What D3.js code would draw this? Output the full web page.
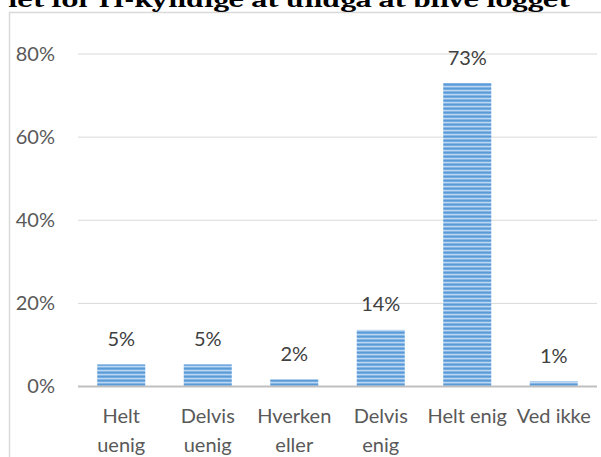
<!DOCTYPE html>
<html><head><meta charset="utf-8">
<script src="https://cdn.jsdelivr.net/npm/d3@7"></script>
<style>body{margin:0;background:#fff;}svg{display:block;}</style>
</head><body>
<svg id="c" width="601" height="457"></svg>
<script>
const titleText = "let for IT-kyndige at undgå at blive logget";
const categories = [["Helt","uenig"],["Delvis","uenig"],["Hverken","eller"],["Delvis","enig"],["Helt enig"],["Ved ikke"]];
const values = [5.2, 5.2, 1.6, 13.5, 72.9, 1.1];
const yTicks = [0, 20, 40, 60, 80];

const svg = d3.select("#c");
const W = 601, H = 457;
const plot = {left: 78, right: 597, top: 53.5, bottom: 386};
const font = "Lato, 'Open Sans', sans-serif";

// pattern
const defs = svg.append("defs");
const pat = defs.append("pattern").attr("id","stripes").attr("patternUnits","userSpaceOnUse")
  .attr("width", 10).attr("height", 4);
const stripeCols = ["#5b9bd5","#74abe0","#bcd7f1","#84b5e4"];
stripeCols.forEach((c,i)=>pat.append("rect").attr("x",0).attr("y",i).attr("width",10).attr("height",1).attr("fill",c));

// frame
svg.append("rect").attr("x",9.5).attr("y",12.5).attr("width",W).attr("height",H)
  .attr("fill","none").attr("stroke","#d9d9d9").attr("stroke-width",1.5);

// title (cut off at top)
svg.append("text").attr("x", 8).attr("y", 6.5)
  .attr("font-family","Cambria, 'Liberation Serif', 'DejaVu Serif', serif")
  .attr("font-weight","bold").attr("font-size",22).attr("fill","#000")
  .attr("textLength", 562).attr("lengthAdjust","spacingAndGlyphs")
  .text(titleText);

const x = d3.scaleBand().domain(d3.range(categories.length))
  .range([plot.left, plot.right]).paddingInner(0.445).paddingOuter(0.2225);
const y = d3.scaleLinear().domain([0, 80]).range([plot.bottom, plot.top]);

// gridlines
svg.append("g").selectAll("line").data(yTicks.filter(t=>t>0)).join("line")
  .attr("x1", plot.left).attr("x2", plot.right)
  .attr("y1", d=>y(d)+0.5).attr("y2", d=>y(d)+0.5)
  .attr("stroke","#d9d9d9").attr("stroke-width",1);

// y labels
svg.append("g").selectAll("text").data(yTicks).join("text")
  .attr("x", 55).attr("y", d=>y(d)).attr("dy","0.35em")
  .attr("text-anchor","end").attr("font-family",font).attr("font-size",20)
  .attr("fill","#595959").text(d=>d+"%");

// bars
svg.append("g").selectAll("rect").data(values).join("rect")
  .attr("x",(d,i)=>x(i)).attr("width",x.bandwidth())
  .attr("y",d=>y(d)).attr("height",d=>y(0)-y(d))
  .attr("fill","url(#stripes)");

// axis line
svg.append("line").attr("x1",plot.left).attr("x2",plot.right)
  .attr("y1",y(0)+0.5).attr("y2",y(0)+0.5).attr("stroke","#bfbfbf").attr("stroke-width",2);

// data labels
svg.append("g").selectAll("text").data(values).join("text")
  .attr("x",(d,i)=>x(i)+x.bandwidth()/2).attr("y",d=>y(d)-18.5)
  .attr("text-anchor","middle").attr("font-family",font).attr("font-size",20)
  .attr("fill","#404040").text(d=>Math.round(d)+"%");

// category labels
const cg = svg.append("g").selectAll("text").data(categories).join("text")
  .attr("x",(d,i)=>x(i)+x.bandwidth()/2).attr("y",423)
  .attr("text-anchor","middle").attr("font-family",font).attr("font-size",20)
  .attr("fill","#595959");
cg.selectAll("tspan").data(d=>d).join("tspan")
  .attr("x", function(){return this.parentNode.getAttribute("x");})
  .attr("dy",(d,i)=>i===0?0:28.5).text(d=>d);
</script>
</body></html>
